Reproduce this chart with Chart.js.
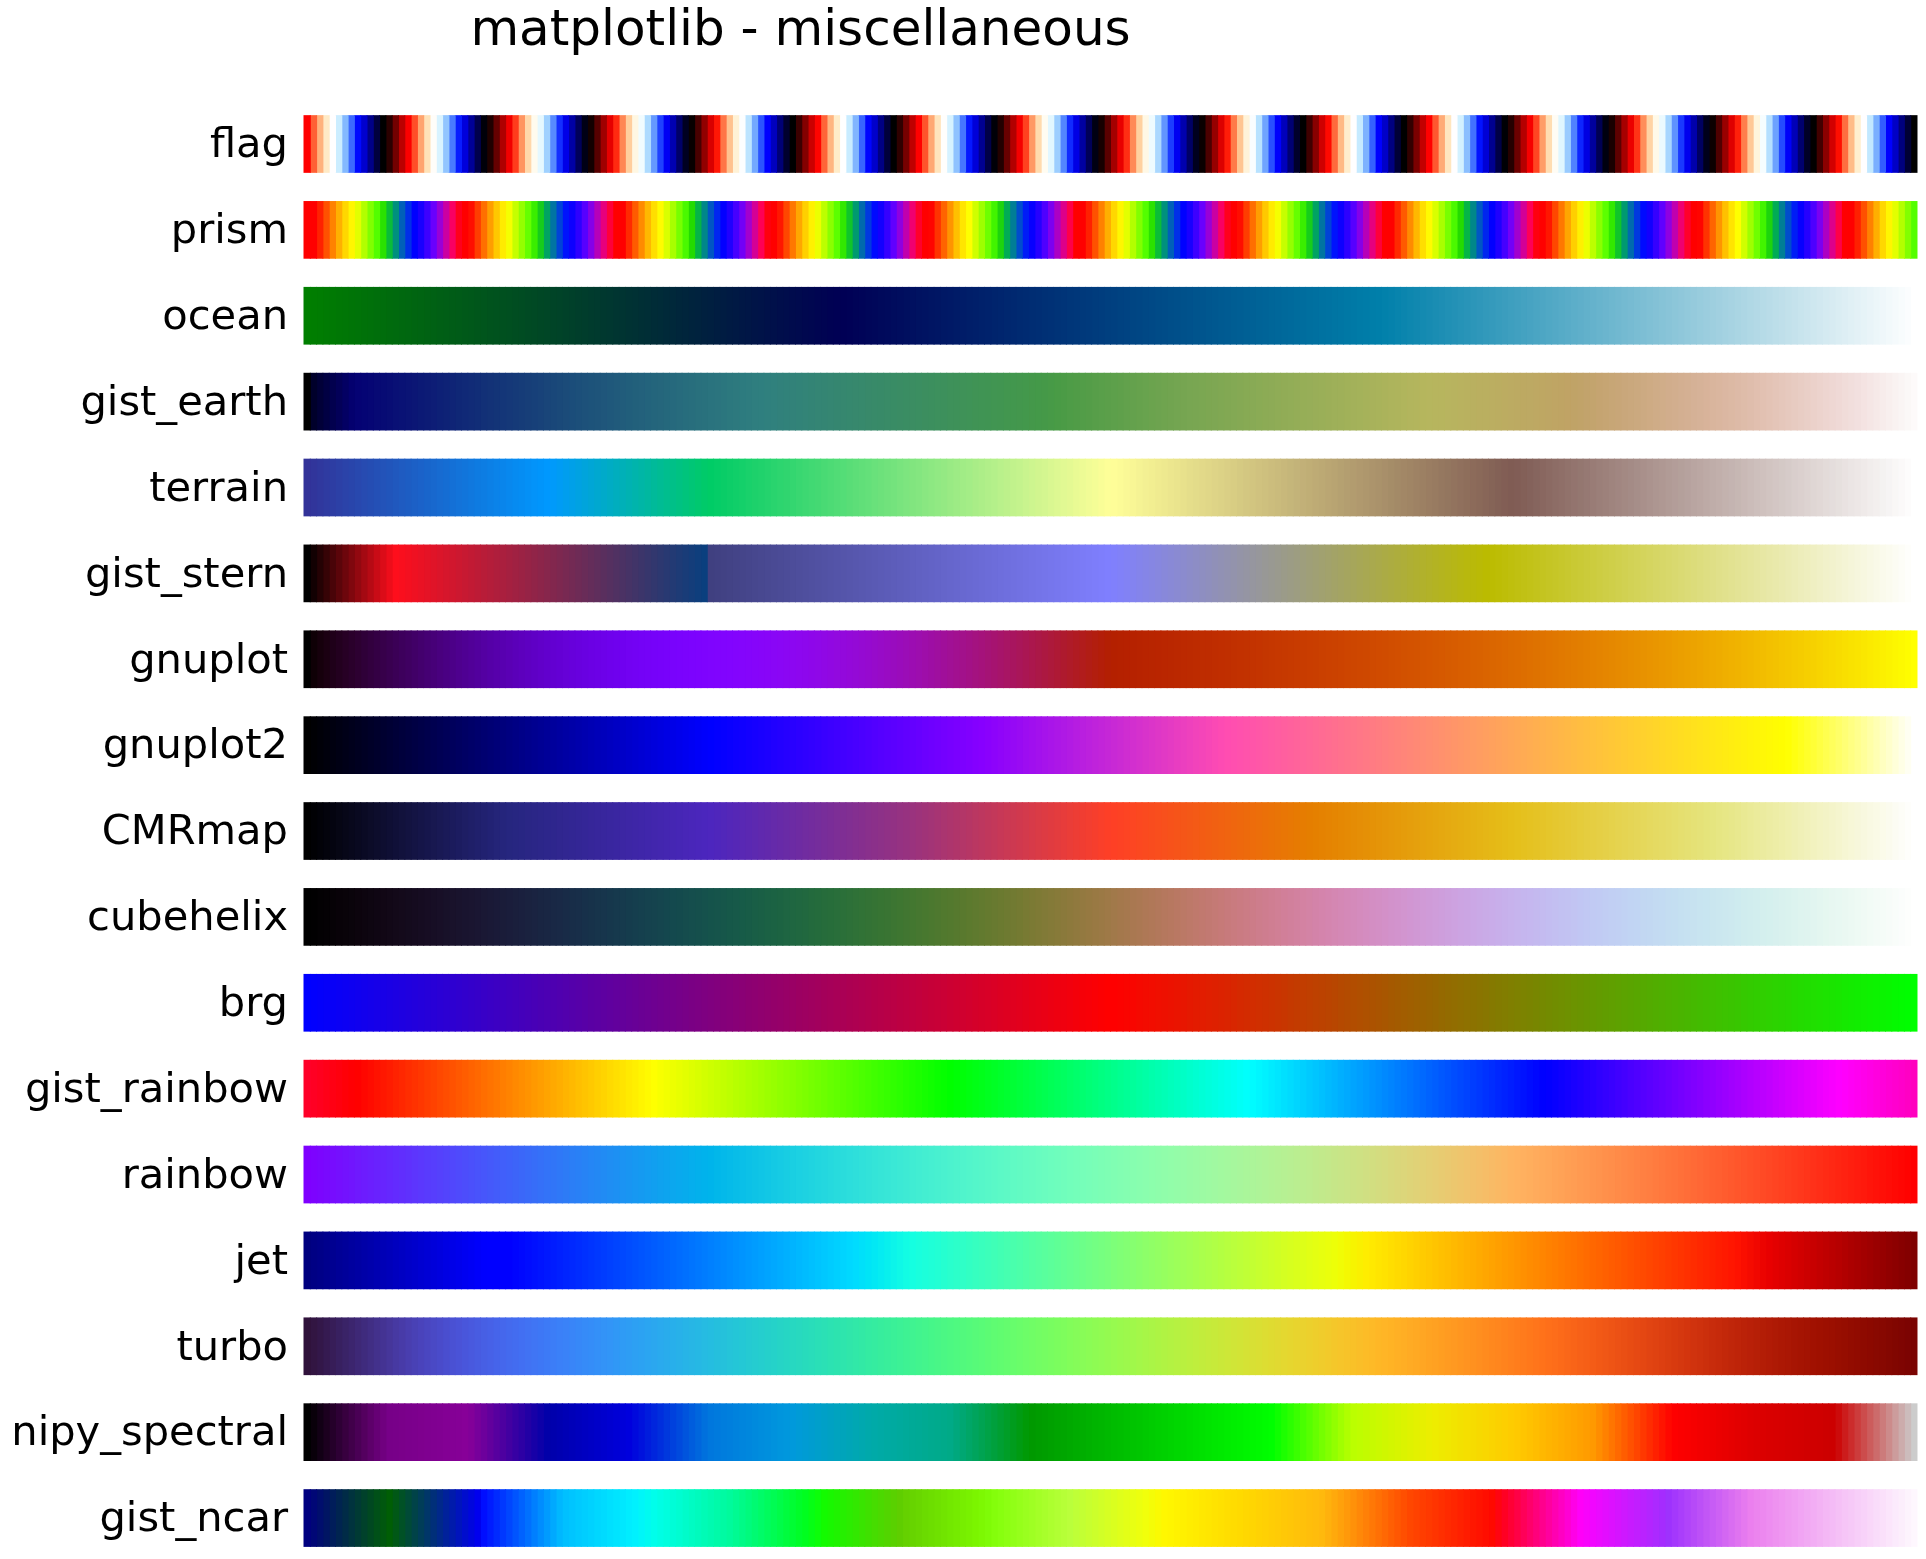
<!DOCTYPE html>
<html>
<head>
<meta charset="utf-8">
<script src="https://cdn.jsdelivr.net/npm/chart.js@4.4.1/dist/chart.umd.min.js"></script>
<style>
html,body{margin:0;padding:0;background:#ffffff;overflow:hidden;}
#wrap{position:relative;width:1926px;height:1559px;}
</style>
</head>
<body>
<div id="wrap"><canvas id="c"></canvas></div>
<script>
// ---------------- data ----------------
const chartTitle = 'matplotlib - miscellaneous';
const colormapNames = ['flag', 'prism', 'ocean', 'gist_earth', 'terrain', 'gist_stern', 'gnuplot',
  'gnuplot2', 'CMRmap', 'cubehelix', 'brg', 'gist_rainbow', 'rainbow', 'jet', 'turbo',
  'nipy_spectral', 'gist_ncar'];
const sampleCount = 256;          // gradient steps drawn per colormap
const stepWidth = 1;              // each gradient step occupies one unit on the value axis

// colormap definitions: segment tables [x, yLeft, yRight] or channel functions
const flagChannels = {
  red: x => 0.75 * Math.sin((x * 31.5 + 0.25) * Math.PI) + 0.5,
  green: x => Math.sin(x * 31.5 * Math.PI),
  blue: x => 0.75 * Math.sin((x * 31.5 - 0.25) * Math.PI) + 0.5
};
const prismChannels = {
  red: x => 0.75 * Math.sin((x * 20.9 + 0.25) * Math.PI) + 0.67,
  green: x => 0.75 * Math.sin((x * 20.9 - 0.25) * Math.PI) + 0.33,
  blue: x => -1.1 * Math.sin((x * 20.9) * Math.PI)
};
const oceanSegments = {
  red: [[0, 0, 0], [0.667, 0, 0], [1, 1, 1]],
  green: [[0, 0.5, 0.5], [0.333, 0, 0], [1, 1, 1]],
  blue: [[0, 0, 0], [1, 1, 1]]
};
const gistEarthSegments = {
  red: [[0, 0, 0], [0.2824, 0.1882, 0.1882], [0.4588, 0.2714, 0.2714], [0.5490, 0.4719, 0.4719],
    [0.6980, 0.7176, 0.7176], [0.7882, 0.7553, 0.7553], [1, 0.9922, 0.9922]],
  green: [[0, 0, 0], [0.0275, 0, 0], [0.1098, 0.1893, 0.1893], [0.1647, 0.3035, 0.3035],
    [0.2078, 0.3841, 0.3841], [0.2824, 0.5020, 0.5020], [0.5216, 0.6397, 0.6397],
    [0.6980, 0.7171, 0.7171], [0.7882, 0.6392, 0.6392], [0.7922, 0.6413, 0.6413],
    [0.8000, 0.6447, 0.6447], [0.8078, 0.6481, 0.6481], [0.8157, 0.6549, 0.6549],
    [0.8667, 0.6991, 0.6991], [0.8745, 0.7103, 0.7103], [0.8824, 0.7216, 0.7216],
    [0.8902, 0.7323, 0.7323], [0.8980, 0.7430, 0.7430], [0.9412, 0.8275, 0.8275],
    [0.9569, 0.8635, 0.8635], [0.9647, 0.8816, 0.8816], [0.9961, 0.9733, 0.9733],
    [1, 0.9843, 0.9843]],
  blue: [[0, 0, 0], [0.0039, 0.1684, 0.1684], [0.0078, 0.2212, 0.2212], [0.0275, 0.4329, 0.4329],
    [0.0314, 0.4549, 0.4549], [0.2824, 0.5004, 0.5004], [0.4667, 0.2748, 0.2748],
    [0.5451, 0.3205, 0.3205], [0.7843, 0.3961, 0.3961], [0.8941, 0.6651, 0.6651],
    [1, 0.9843, 0.9843]]
};
const terrainStops = [
  [0.00, 0.2, 0.2, 0.6], [0.15, 0.0, 0.6, 1.0], [0.25, 0.0, 0.8, 0.4],
  [0.50, 1.0, 1.0, 0.6], [0.75, 0.5, 0.36, 0.33], [1.00, 1.0, 1.0, 1.0]
];
const gistSternSegments = {
  red: [[0, 0, 0], [0.0547, 1, 1], [0.25, 0.027, 0.25], [1, 1, 1]],
  green: [[0, 0, 0], [1, 1, 1]],
  blue: [[0, 0, 0], [0.5, 1, 1], [0.735, 0, 0], [1, 1, 1]]
};
const gnuplotChannels = {
  red: x => Math.sqrt(x),
  green: x => x * x * x,
  blue: x => Math.sin(2 * Math.PI * x)
};
const gnuplot2Channels = {
  red: x => x / 0.32 - 0.78125,
  green: x => 2 * x - 0.84,
  blue: x => x < 0.25 ? 4 * x : (x < 0.92 ? -2 * x + 1.84 : x / 0.08 - 11.5)
};
const cmrmapSegments = {
  red: [[0, 0, 0], [0.125, 0.15, 0.15], [0.25, 0.30, 0.30], [0.375, 0.60, 0.60], [0.5, 1, 1],
    [0.625, 0.9, 0.9], [0.75, 0.9, 0.9], [0.875, 0.9, 0.9], [1, 1, 1]],
  green: [[0, 0, 0], [0.125, 0.15, 0.15], [0.25, 0.15, 0.15], [0.375, 0.2, 0.2], [0.5, 0.25, 0.25],
    [0.625, 0.5, 0.5], [0.75, 0.75, 0.75], [0.875, 0.9, 0.9], [1, 1, 1]],
  blue: [[0, 0, 0], [0.125, 0.5, 0.5], [0.25, 0.75, 0.75], [0.375, 0.5, 0.5], [0.5, 0.15, 0.15],
    [0.625, 0, 0], [0.75, 0.1, 0.1], [0.875, 0.5, 0.5], [1, 1, 1]]
};
const cubehelixParams = { gamma: 1.0, s: 0.5, r: -1.5, h: 1.0,
  red: [-0.14861, 1.78277], green: [-0.29227, -0.90649], blue: [1.97294, 0.0] };
const brgSegments = {
  red: [[0, 0, 0], [0.5, 1, 1], [1, 0, 0]],
  green: [[0, 0, 0], [0.5, 0, 0], [1, 1, 1]],
  blue: [[0, 1, 1], [0.5, 0, 0], [1, 0, 0]]
};
const gistRainbowStops = [
  [0.000, 1.00, 0.00, 0.16], [0.030, 1.00, 0.00, 0.00], [0.215, 1.00, 1.00, 0.00],
  [0.400, 0.00, 1.00, 0.00], [0.586, 0.00, 1.00, 1.00], [0.770, 0.00, 0.00, 1.00],
  [0.954, 1.00, 0.00, 1.00], [1.000, 1.00, 0.00, 0.75]
];
const rainbowChannels = {
  red: x => Math.abs(2 * x - 0.5),
  green: x => Math.sin(Math.PI * x),
  blue: x => Math.cos(Math.PI * x / 2)
};
const jetSegments = {
  red: [[0, 0, 0], [0.35, 0, 0], [0.66, 1, 1], [0.89, 1, 1], [1, 0.5, 0.5]],
  green: [[0, 0, 0], [0.125, 0, 0], [0.375, 1, 1], [0.64, 1, 1], [0.91, 0, 0], [1, 0, 0]],
  blue: [[0, 0.5, 0.5], [0.11, 1, 1], [0.34, 1, 1], [0.65, 0, 0], [1, 0, 0]]
};
const turboCoefficients = {
  red: [0.13572138, 4.61539260, -42.66032258, 132.13108234, -152.94239396, 59.28637943],
  green: [0.09140261, 2.19418839, 4.84296658, -14.18503333, 4.27729857, 2.82956604],
  blue: [0.10667330, 12.64194608, -60.58204836, 110.36276771, -89.90310912, 27.34824973]
};
const turboStartColor = [0.18995, 0.07176, 0.23217];
const turboEndColor = [0.47960, 0.01583, 0.01055];
const nipySpectralSegments = {
  red: [[0, 0, 0], [0.05, 0.4667, 0.4667], [0.10, 0.5333, 0.5333], [0.15, 0, 0], [0.20, 0, 0],
    [0.25, 0, 0], [0.30, 0, 0], [0.35, 0, 0], [0.40, 0, 0], [0.45, 0, 0], [0.50, 0, 0],
    [0.55, 0, 0], [0.60, 0, 0], [0.65, 0.7333, 0.7333], [0.70, 0.9333, 0.9333], [0.75, 1, 1],
    [0.80, 1, 1], [0.85, 1, 1], [0.90, 0.8667, 0.8667], [0.95, 0.80, 0.80], [1, 0.80, 0.80]],
  green: [[0, 0, 0], [0.05, 0, 0], [0.10, 0, 0], [0.15, 0, 0], [0.20, 0, 0],
    [0.25, 0.4667, 0.4667], [0.30, 0.6, 0.6], [0.35, 0.6667, 0.6667], [0.40, 0.6667, 0.6667],
    [0.45, 0.6, 0.6], [0.50, 0.7333, 0.7333], [0.55, 0.8667, 0.8667], [0.60, 1, 1], [0.65, 1, 1],
    [0.70, 0.9333, 0.9333], [0.75, 0.8, 0.8], [0.80, 0.6, 0.6], [0.85, 0, 0], [0.90, 0, 0],
    [0.95, 0, 0], [1, 0.80, 0.80]],
  blue: [[0, 0, 0], [0.05, 0.5333, 0.5333], [0.10, 0.6, 0.6], [0.15, 0.6667, 0.6667],
    [0.20, 0.8667, 0.8667], [0.25, 0.8667, 0.8667], [0.30, 0.8667, 0.8667], [0.35, 0.6667, 0.6667],
    [0.40, 0.5333, 0.5333], [0.45, 0, 0], [0.50, 0, 0], [0.55, 0, 0], [0.60, 0, 0], [0.65, 0, 0],
    [0.70, 0, 0], [0.75, 0, 0], [0.80, 0, 0], [0.85, 0, 0], [0.90, 0, 0], [0.95, 0, 0],
    [1, 0.80, 0.80]]
};
const gistNcarSegments = {
  red: [[0, 0, 0], [0.3098, 0, 0], [0.3725, 0.3993, 0.3993], [0.4235, 0.5003, 0.5003],
    [0.5333, 1, 1], [0.7922, 1, 1], [0.8471, 0.6218, 0.6218], [0.8980, 0.9235, 0.9235],
    [1, 0.9961, 0.9961]],
  green: [[0, 0, 0], [0.0510, 0.3722, 0.3722], [0.1059, 0, 0], [0.1569, 0.7202, 0.7202],
    [0.1608, 0.7537, 0.7537], [0.1647, 0.7752, 0.7752], [0.2157, 1, 1], [0.2588, 0.9804, 0.9804],
    [0.2706, 0.9804, 0.9804], [0.3176, 1, 1], [0.3686, 0.8081, 0.8081], [0.4275, 1, 1],
    [0.5216, 1, 1], [0.6314, 0.7292, 0.7292], [0.6863, 0.2796, 0.2796], [0.7451, 0, 0],
    [0.7922, 0, 0], [0.8431, 0.1753, 0.1753], [0.8980, 0.5, 0.5], [1, 0.9725, 0.9725]],
  blue: [[0, 0.5020, 0.5020], [0.0510, 0.0222, 0.0222], [0.1098, 1, 1], [0.2039, 1, 1],
    [0.2627, 0.6145, 0.6145], [0.3216, 0, 0], [0.4157, 0, 0], [0.4745, 0.2342, 0.2342],
    [0.5333, 0, 0], [0.5804, 0, 0], [0.6314, 0.0549, 0.0549], [0.6902, 0, 0], [0.7373, 0, 0],
    [0.7922, 0.9738, 0.9738], [0.8, 1, 1], [0.8431, 1, 1], [0.8980, 0.9341, 0.9341],
    [1, 0.9961, 0.9961]]
};

// ---------------- colormap sampling ----------------
function clip01(v) { return Math.min(1, Math.max(0, v)); }
function stopsToSegments(stops) {
  const out = { red: [], green: [], blue: [] };
  stops.forEach(s => {
    out.red.push([s[0], s[1], s[1]]);
    out.green.push([s[0], s[2], s[2]]);
    out.blue.push([s[0], s[3], s[3]]);
  });
  return out;
}
function cubehelixChannel(p) {
  const c = cubehelixParams;
  return x => {
    const xg = Math.pow(x, c.gamma);
    const a = c.h * xg * (1 - xg) / 2;
    const phi = 2 * Math.PI * (c.s / 3 + c.r * x);
    return xg + a * (p[0] * Math.cos(phi) + p[1] * Math.sin(phi));
  };
}
function turboChannel(name, idx) {
  const k = turboCoefficients[name];
  const poly = x => k[0] + x * (k[1] + x * (k[2] + x * (k[3] + x * (k[4] + x * k[5]))));
  return x => {
    if (x < 0.05) {
      const t = x / 0.05;
      return turboStartColor[idx] + t * (poly(0.05) - turboStartColor[idx]);
    }
    if (x > 0.95) {
      const t = (x - 0.95) / 0.05;
      return poly(0.95) + t * (turboEndColor[idx] - poly(0.95));
    }
    return poly(x);
  };
}
const colormapDefs = {
  flag: flagChannels, prism: prismChannels, ocean: oceanSegments, gist_earth: gistEarthSegments,
  terrain: stopsToSegments(terrainStops), gist_stern: gistSternSegments, gnuplot: gnuplotChannels,
  gnuplot2: gnuplot2Channels, CMRmap: cmrmapSegments,
  cubehelix: { red: cubehelixChannel(cubehelixParams.red), green: cubehelixChannel(cubehelixParams.green), blue: cubehelixChannel(cubehelixParams.blue) },
  brg: brgSegments, gist_rainbow: stopsToSegments(gistRainbowStops), rainbow: rainbowChannels,
  jet: jetSegments,
  turbo: { red: turboChannel('red', 0), green: turboChannel('green', 1), blue: turboChannel('blue', 2) },
  nipy_spectral: nipySpectralSegments, gist_ncar: gistNcarSegments
};
function channelTable(def, N) {
  const out = new Array(N);
  if (typeof def === 'function') {
    for (let i = 0; i < N; i++) out[i] = clip01(def(i / (N - 1)));
    return out;
  }
  const xs = def.map(d => d[0]), y0 = def.map(d => d[1]), y1 = def.map(d => d[2]);
  out[0] = y1[0];
  out[N - 1] = y0[y0.length - 1];
  for (let i = 1; i < N - 1; i++) {
    const xi = i / (N - 1);
    let k = 0;
    while (k < xs.length && xs[k] < xi) k++;
    const d = (xi - xs[k - 1]) / (xs[k] - xs[k - 1]);
    out[i] = clip01(d * (y0[k] - y1[k - 1]) + y1[k - 1]);
  }
  return out;
}
const colorTables = {};
colormapNames.forEach(name => {
  const def = colormapDefs[name];
  const r = channelTable(def.red, sampleCount);
  const g = channelTable(def.green, sampleCount);
  const b = channelTable(def.blue, sampleCount);
  colorTables[name] = r.map((_, i) =>
    'rgb(' + Math.floor(r[i] * 255) + ',' + Math.floor(g[i] * 255) + ',' + Math.floor(b[i] * 255) + ')');
});

// ---------------- chart ----------------
const datasets = [];
for (let s = 0; s < sampleCount; s++) {
  datasets.push({
    label: 'step ' + s,
    data: colormapNames.map(() => stepWidth),
    backgroundColor: colormapNames.map(n => colorTables[n][s]),
    borderWidth: 0,
    inflateAmount: 0.5,
    barThickness: 56.7,
    clip: false
  });
}

const titlePlacement = {
  id: 'titlePlacement',
  afterLayout(chart) {
    if (chart.titleBlock) {
      chart.titleBlock.left = 0;
      chart.titleBlock.right = 1601;
    }
  }
};

new Chart(document.getElementById('c'), {
  type: 'bar',
  data: { labels: colormapNames, datasets: datasets },
  plugins: [titlePlacement],
  options: {
    indexAxis: 'y',
    responsive: true,
    maintainAspectRatio: false,
    animation: false,
    events: [],
    layout: { padding: { left: 0, right: 9, top: 0, bottom: 39.5 } },
    plugins: {
      legend: { display: false },
      tooltip: { enabled: false },
      title: {
        display: true,
        text: chartTitle,
        color: '#000000',
        font: { family: 'DejaVu Sans', size: 50, weight: 'normal', lineHeight: 1.2 },
        padding: { top: 2, bottom: 82 }
      }
    },
    scales: {
      x: { type: 'linear', min: 0, max: sampleCount * stepWidth, stacked: true, display: false },
      y: {
        type: 'category',
        stacked: true,
        offset: false,
        grid: { display: false, drawTicks: false },
        border: { display: false },
        ticks: {
          autoSkip: false,
          color: '#000000',
          padding: 16,
          labelOffset: 2.5,
          font: { family: 'DejaVu Sans', size: 41.6 }
        },
        afterFit(scale) { scale.width = 304; }
      }
    }
  }
});
</script>
</body>
</html>
